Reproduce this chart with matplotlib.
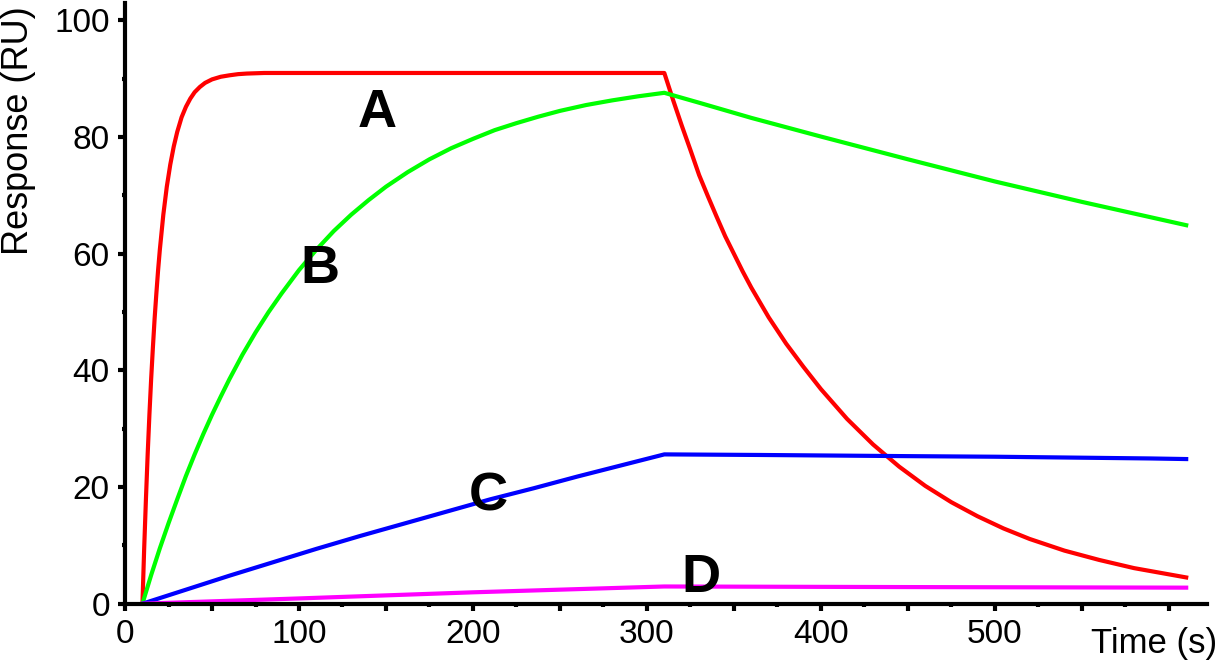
import matplotlib
matplotlib.use("Agg")
import matplotlib.pyplot as plt
from matplotlib.ticker import MultipleLocator, FuncFormatter

plt.rcParams["font.family"] = ["Liberation Sans", "DejaVu Sans"]

# curve A (red): fast on, fast off
t_a = [10, 11, 12, 13, 14, 15, 16, 17, 18, 19, 20, 22, 24, 26, 28, 30, 32.5, 35, 37.5, 40,
       43, 46, 50, 55, 60, 65, 70, 80, 310,
       315, 320, 325, 330, 335, 340, 345, 350, 355, 360, 370, 380, 390, 400, 415, 430, 445,
       460, 475, 490, 505, 520, 540, 560, 580, 595, 610]
r_a = [0, 9.5, 17.9, 25.6, 32.4, 38.5, 43.9, 48.9, 53.2, 57.2, 60.7, 66.7, 71.5, 75.3, 78.4, 80.9,
       83.4, 85.2, 86.6, 87.7, 88.6, 89.3, 89.9, 90.35, 90.6, 90.8, 90.9, 91.0, 91.0,
       86.4, 82.0, 77.8, 73.5, 69.9, 66.4, 63.0, 60.0, 57.0, 54.2, 49.1, 44.6, 40.6, 36.8,
       31.7, 27.3, 23.5, 20.2, 17.4, 15.0, 12.9, 11.1, 9.1, 7.5, 6.1, 5.3, 4.5]

# curve B (green): slow on, slow off
t_b = [10, 15, 20, 25, 30, 35, 40, 45, 50, 55, 60, 67.5, 75, 82.5, 90, 100, 110, 120, 130,
       140, 150, 162.5, 175, 187.5, 200, 212.5, 225, 237.5, 250, 265, 280, 295, 310,
       330, 360, 400, 450, 500, 550, 610]
r_b = [0, 4.9, 9.5, 13.8, 17.9, 21.9, 25.6, 29.1, 32.4, 35.5, 38.5, 42.7, 46.5, 50.0, 53.2,
       57.2, 60.7, 63.9, 66.7, 69.2, 71.5, 74.0, 76.2, 78.1, 79.7, 81.2, 82.4, 83.5, 84.5,
       85.5, 86.3, 87.0, 87.6,
       85.9, 83.3, 80.1, 76.2, 72.4, 68.9, 64.9]

# curve C (blue)
t_c = [10, 35, 60, 85, 110, 135, 160, 185, 210, 235, 260, 285, 310, 365, 450, 500, 590, 610]
r_c = [0, 2.4, 4.8, 7.1, 9.4, 11.6, 13.7, 15.8, 17.9, 19.8, 21.8, 23.7, 25.6,
       25.5, 25.3, 25.2, 24.9, 24.8]

# curve D (magenta)
t_d = [10, 100, 200, 310, 450, 610]
r_d = [0, 0.9, 1.95, 2.95, 2.85, 2.75]

curves = [
    (t_a, r_a, "#ff0000"),
    (t_b, r_b, "#00ff00"),
    (t_c, r_c, "#0000ff"),
    (t_d, r_d, "#ff00ff"),
]

# letter, x, y (baseline)
curve_labels = [("A", 145, 81.8), ("B", 112, 55.0), ("C", 208.6, 15.9), ("D", 331, 2.06)]

fig = plt.figure(figsize=(12.2, 6.65), dpi=100)
ax = fig.add_axes([0.1025, 0.0922, 0.8869, 0.9033])

for t, r, color in curves:
    ax.plot(t, r, color=color, lw=3, solid_joinstyle="round")

for letter, x, y in curve_labels:
    ax.text(x, y, letter, ha="center", va="baseline", fontsize=39, fontweight="bold")

ax.set_xlim(0, 622)
ax.set_ylim(0, 103)
for side in ("top", "right"):
    ax.spines[side].set_visible(False)
for side in ("left", "bottom"):
    ax.spines[side].set_linewidth(3)

ax.xaxis.set_major_locator(MultipleLocator(50))
ax.xaxis.set_minor_locator(MultipleLocator(25))
ax.xaxis.set_major_formatter(FuncFormatter(lambda v, p: f"{v:.0f}" if v % 100 == 0 and v <= 500 else ""))
ax.yaxis.set_major_locator(MultipleLocator(20))
ax.yaxis.set_minor_locator(MultipleLocator(10))
ax.tick_params(which="major", length=5, width=3, direction="out", labelsize=24, pad=6)
ax.tick_params(which="minor", length=2, width=3, direction="out")

fig.text(0.015, 1 - 131 / 665, "Response (RU)", rotation=90, ha="center", va="center", fontsize=26)
fig.text(0.998, 1 - 643 / 665, "Time (s)", ha="right", va="center", fontsize=25)

fig.savefig("out.png", dpi=100)
